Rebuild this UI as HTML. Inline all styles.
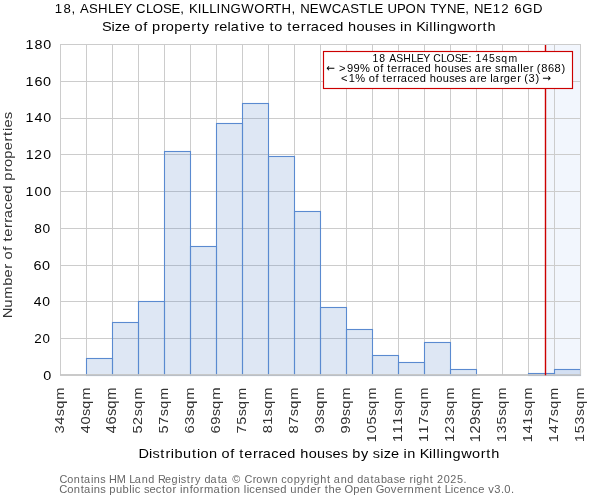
<!DOCTYPE html><html><head><meta charset="utf-8"><style>html,body{margin:0;padding:0;background:#fff;width:600px;height:500px;overflow:hidden}svg{display:block;will-change:transform}text{font-family:"Liberation Sans", sans-serif}</style></head><body>
<svg width="600" height="500" viewBox="0 0 600 500">
<rect x="0" y="0" width="600" height="500" fill="#fff"/>
<rect x="545.5" y="44.5" width="35.0" height="330.5" fill="#f2f6fd"/>
<path d="M86.5 44.5V375.0M112.5 44.5V375.0M138.5 44.5V375.0M164.5 44.5V375.0M190.5 44.5V375.0M216.5 44.5V375.0M242.5 44.5V375.0M268.5 44.5V375.0M294.5 44.5V375.0M320.5 44.5V375.0M346.5 44.5V375.0M372.5 44.5V375.0M398.5 44.5V375.0M424.5 44.5V375.0M450.5 44.5V375.0M476.5 44.5V375.0M502.5 44.5V375.0M528.5 44.5V375.0M554.5 44.5V375.0M60.5 338.5H580.5M60.5 301.5H580.5M60.5 265.5H580.5M60.5 228.5H580.5M60.5 191.5H580.5M60.5 154.5H580.5M60.5 118.5H580.5M60.5 81.5H580.5M60.5 44.5H580.5" stroke="#cccccc" stroke-width="1" fill="none"/>
<rect x="86.5" y="358.5" width="26" height="17.0" fill="#5a87c8" fill-opacity="0.2" stroke="#5a8ad0" stroke-width="1.1"/>
<rect x="112.5" y="322.5" width="26" height="53.0" fill="#5a87c8" fill-opacity="0.2" stroke="#5a8ad0" stroke-width="1.1"/>
<rect x="138.5" y="301.5" width="26" height="74.0" fill="#5a87c8" fill-opacity="0.2" stroke="#5a8ad0" stroke-width="1.1"/>
<rect x="164.5" y="151.5" width="26" height="224.0" fill="#5a87c8" fill-opacity="0.2" stroke="#5a8ad0" stroke-width="1.1"/>
<rect x="190.5" y="246.5" width="26" height="129.0" fill="#5a87c8" fill-opacity="0.2" stroke="#5a8ad0" stroke-width="1.1"/>
<rect x="216.5" y="123.5" width="26" height="252.0" fill="#5a87c8" fill-opacity="0.2" stroke="#5a8ad0" stroke-width="1.1"/>
<rect x="242.5" y="103.5" width="26" height="272.0" fill="#5a87c8" fill-opacity="0.2" stroke="#5a8ad0" stroke-width="1.1"/>
<rect x="268.5" y="156.5" width="26" height="219.0" fill="#5a87c8" fill-opacity="0.2" stroke="#5a8ad0" stroke-width="1.1"/>
<rect x="294.5" y="211.5" width="26" height="164.0" fill="#5a87c8" fill-opacity="0.2" stroke="#5a8ad0" stroke-width="1.1"/>
<rect x="320.5" y="307.5" width="26" height="68.0" fill="#5a87c8" fill-opacity="0.2" stroke="#5a8ad0" stroke-width="1.1"/>
<rect x="346.5" y="329.5" width="26" height="46.0" fill="#5a87c8" fill-opacity="0.2" stroke="#5a8ad0" stroke-width="1.1"/>
<rect x="372.5" y="355.5" width="26" height="20.0" fill="#5a87c8" fill-opacity="0.2" stroke="#5a8ad0" stroke-width="1.1"/>
<rect x="398.5" y="362.5" width="26" height="13.0" fill="#5a87c8" fill-opacity="0.2" stroke="#5a8ad0" stroke-width="1.1"/>
<rect x="424.5" y="342.5" width="26" height="33.0" fill="#5a87c8" fill-opacity="0.2" stroke="#5a8ad0" stroke-width="1.1"/>
<rect x="450.5" y="369.5" width="26" height="6.0" fill="#5a87c8" fill-opacity="0.2" stroke="#5a8ad0" stroke-width="1.1"/>
<rect x="528.5" y="373.5" width="26" height="2.0" fill="#5a87c8" fill-opacity="0.2" stroke="#5a8ad0" stroke-width="1.1"/>
<rect x="554.5" y="369.5" width="26" height="6.0" fill="#5a87c8" fill-opacity="0.2" stroke="#5a8ad0" stroke-width="1.1"/>
<path d="M60.5 44.5V375.0M580.5 44.5V375.0M60.0 44.5H581.0" stroke="#cccccc" stroke-width="1" fill="none"/>
<path d="M60.0 375.0H581.0" stroke="#c4c4c4" stroke-opacity="0.9" stroke-width="2" fill="none"/>
<line x1="545.5" y1="45" x2="545.5" y2="375.2" stroke="#cc0000" stroke-width="1.4"/>
<rect x="323.5" y="51.5" width="249" height="37" fill="#fff" stroke="#cc0000" stroke-width="1.15"/>
<path d="M326.73 68.53V68.07L328.73 66.07L329.34 66.68L328.15 67.87H334.37V68.73H328.15L329.34 69.92L328.73 70.53Z M550.57 77.97V78.43L548.57 80.43L547.96 79.82L549.15 78.63H542.93V77.77H549.15L547.96 76.58L548.57 75.97Z" fill="#000"/>
<text transform="translate(54.28,13.00) scale(0.9989,1)" x="0.53 9.15 17.28 21.40 25.85 34.80 43.69 53.90 60.83 69.22 77.75 81.87 91.78 98.56 108.93 117.35 126.20 130.32 134.92 143.56 147.75 155.25 162.52 166.59 176.46 187.23 200.28 210.85 219.14 227.57 237.57 241.69 246.21 255.83 264.93 277.68 287.41 296.36 305.04 313.55 320.49 329.19 333.60 343.18 351.57 362.26 372.08 376.42 384.26 393.03 402.66 411.51 415.63 420.15 429.77 439.00 447.44 455.59 460.46 468.47 479.28" y="0" font-size="13.2" fill="#000">18, ASHLEY CLOSE, KILLINGWORTH, NEWCASTLE UPON TYNE, NE12 6GD</text>
<text transform="translate(102.62,30.60) scale(1.1030,1)" x="-0.48 7.98 11.10 17.65 25.07 29.00 36.88 40.72 44.86 52.87 57.20 64.87 72.46 80.40 85.41 89.98 96.91 101.32 105.68 113.32 116.08 124.49 128.99 132.45 139.48 146.89 151.29 155.61 163.03 167.43 171.80 179.74 184.53 188.62 196.41 203.32 210.86 218.49 222.56 230.16 237.74 245.27 251.77 259.15 265.55 269.66 273.04 280.57 284.29 292.68 296.07 299.46 302.86 306.23 313.88 321.72 331.55 339.50 344.51 348.97" y="0" font-size="13.2" fill="#000">Size of property relative to terraced houses in Killingworth</text>
<text transform="translate(138.48,458.00) scale(1.0998,1)" x="-0.05 9.68 12.83 19.78 24.60 29.34 32.79 40.47 48.60 53.12 56.36 64.02 71.57 75.54 83.45 87.30 91.72 96.12 104.09 108.91 113.02 120.84 127.79 135.36 143.01 147.12 154.76 162.37 169.94 176.47 183.88 190.30 194.48 202.30 209.25 213.12 219.77 222.91 229.50 236.93 241.07 244.47 252.02 255.78 264.20 267.60 271.01 274.42 277.82 285.51 293.38 303.26 311.24 316.27 320.76" y="0" font-size="13.2" fill="#000">Distribution of terraced houses by size in Killingworth</text>
<text transform="translate(12.00,316.50) rotate(-90) translate(-1.32,0) scale(1.1230,1)" x="-0.30 9.07 16.94 28.46 35.92 43.74 48.20 52.01 59.78 63.58 67.87 72.13 79.96 84.67 88.66 96.32 103.11 110.52 118.08 122.08 129.98 134.21 141.75 149.21 157.04 161.97 166.40 169.57 176.82" y="0" font-size="13.2" fill="#333">Number of terraced properties</text>
<text transform="translate(59.82,483.00) scale(1.0447,1)" x="-0.33 7.15 13.41 19.95 23.18 29.77 32.60 38.73 43.88 47.05 54.56 63.24 66.51 71.79 78.42 84.69 90.84 93.89 100.70 106.88 113.26 115.87 121.51 125.46 129.42 135.00 138.39 144.32 151.16 154.39 160.74 165.08 173.94 176.79 184.62 188.15 194.44 202.60 208.66 211.86 217.51 223.81 230.18 236.27 240.11 242.87 249.29 255.85 259.29 262.26 268.90 275.17 281.32 284.71 290.65 297.48 300.71 307.39 313.20 319.62 324.97 330.93 334.63 338.47 341.23 347.65 354.20 357.65 360.98 367.48 373.72 380.19 386.45" y="0" font-size="10.4" fill="#666">Contains HM Land Registry data © Crown copyright and database right 2025.</text>
<text transform="translate(59.81,492.90) scale(1.0760,1)" x="-0.43 6.88 12.96 19.36 22.46 28.91 31.62 37.59 42.67 46.01 52.11 58.36 64.49 67.20 69.66 75.07 78.16 83.35 89.18 95.01 98.48 104.80 108.37 111.66 114.37 120.72 123.84 130.17 134.03 142.81 149.50 153.09 155.67 161.75 167.73 171.01 173.72 176.18 181.70 187.78 193.75 198.94 204.95 211.00 214.25 220.47 226.57 232.73 239.06 242.62 246.14 249.72 255.81 261.70 264.57 272.70 278.75 284.83 290.81 293.61 301.52 307.67 313.28 319.60 323.25 329.64 338.82 344.90 351.30 354.69 357.79 363.41 365.87 371.38 377.47 383.39 388.90 394.78 398.15 403.85 409.93 413.13 419.22" y="0" font-size="10.4" fill="#666">Contains public sector information licensed under the Open Government Licence v3.0.</text>
<text transform="translate(372.14,61.60) scale(1.0334,1)" x="0.39 6.97 13.06 16.45 23.27 30.05 37.84 43.13 49.54 56.05 59.18 66.75 71.93 79.84 86.27 93.24 96.37 100.03 106.60 113.10 119.43 124.94 131.89" y="0" font-size="10.1" fill="#000">18 ASHLEY CLOSE: 145sqm</text>
<text transform="translate(338.00,71.60) scale(1.1007,1)" x="1.01 8.14 14.19 20.08 29.11 32.22 38.34 41.30 44.75 48.18 54.35 58.15 61.35 67.41 72.80 78.67 84.56 87.78 93.70 99.61 105.47 110.54 116.28 121.23 123.98 130.52 133.88 139.61 142.65 148.02 156.59 162.88 165.52 168.09 174.27 177.73 180.67 184.67 190.72 196.77 203.04" y="0" font-size="10.1" fill="#000">&gt;99% of terraced houses are smaller (868)</text>
<text transform="translate(339.90,81.60) scale(1.0982,1)" x="1.02 8.13 14.05 23.09 26.21 32.33 35.30 38.76 42.19 48.37 52.17 55.38 61.45 66.84 72.72 78.62 81.85 87.78 93.69 99.56 104.64 110.39 115.34 118.10 124.65 128.02 133.75 136.97 139.16 145.71 149.21 155.24 161.42 164.89 167.83 171.85 178.12" y="0" font-size="10.1" fill="#000">&lt;1% of terraced houses are larger (3)</text>
<text transform="translate(42.80,379.80) scale(1.0935,1)" x="0.31" y="0" font-size="13.2" fill="#000">0</text>
<text transform="translate(33.96,343.04) scale(1.0111,1)" x="0.21 8.49" y="0" font-size="13.2" fill="#000">20</text>
<text transform="translate(33.55,306.28) scale(1.0559,1)" x="0.31 8.28" y="0" font-size="13.2" fill="#000">40</text>
<text transform="translate(33.26,269.53) scale(1.0938,1)" x="0.24 8.07" y="0" font-size="13.2" fill="#000">60</text>
<text transform="translate(33.87,232.77) scale(1.0405,1)" x="0.29 8.21" y="0" font-size="13.2" fill="#000">80</text>
<text transform="translate(25.29,196.01) scale(1.0818,1)" x="0.30 8.45 16.53" y="0" font-size="13.2" fill="#000">100</text>
<text transform="translate(25.29,159.25) scale(1.0683,1)" x="0.35 8.43 16.78" y="0" font-size="13.2" fill="#000">120</text>
<text transform="translate(25.29,122.49) scale(1.0821,1)" x="0.30 8.44 16.52" y="0" font-size="13.2" fill="#000">140</text>
<text transform="translate(25.29,85.74) scale(1.0945,1)" x="0.25 8.31 16.29" y="0" font-size="13.2" fill="#000">160</text>
<text transform="translate(25.29,48.98) scale(1.0857,1)" x="0.29 8.40 16.45" y="0" font-size="13.2" fill="#000">180</text>
<text transform="translate(63.70,432.75) rotate(-90) translate(-1.05,0) scale(1.0649,1)" x="0.32 8.53 16.50 23.42 32.04" y="0" font-size="13.7" fill="#333">34sqm</text>
<text transform="translate(89.70,432.75) rotate(-90) translate(-0.67,0) scale(1.0636,1)" x="0.27 8.44 16.35 23.22 31.77" y="0" font-size="13.7" fill="#333">40sqm</text>
<text transform="translate(115.70,432.75) rotate(-90) translate(-0.67,0) scale(1.0704,1)" x="0.25 8.37 16.23 23.05 31.53" y="0" font-size="13.7" fill="#333">46sqm</text>
<text transform="translate(141.70,432.75) rotate(-90) translate(-1.06,0) scale(1.0550,1)" x="0.29 8.48 16.69 23.68 32.41" y="0" font-size="13.7" fill="#333">52sqm</text>
<text transform="translate(167.70,432.75) rotate(-90) translate(-1.06,0) scale(1.0578,1)" x="0.28 8.59 16.64 23.61 32.31" y="0" font-size="13.7" fill="#333">57sqm</text>
<text transform="translate(193.70,432.75) rotate(-90) translate(-0.96,0) scale(1.0696,1)" x="0.28 8.47 16.37 23.24 31.80" y="0" font-size="13.7" fill="#333">63sqm</text>
<text transform="translate(219.70,432.75) rotate(-90) translate(-0.96,0) scale(1.0840,1)" x="0.22 8.25 16.11 22.89 31.30" y="0" font-size="13.7" fill="#333">69sqm</text>
<text transform="translate(245.70,432.75) rotate(-90) translate(-1.13,0) scale(1.0594,1)" x="0.31 8.57 16.64 23.61 32.31" y="0" font-size="13.7" fill="#333">75sqm</text>
<text transform="translate(271.70,432.75) rotate(-90) translate(-0.93,0) scale(1.0642,1)" x="0.29 8.44 16.46 23.37 31.97" y="0" font-size="13.7" fill="#333">81sqm</text>
<text transform="translate(297.70,432.75) rotate(-90) translate(-0.93,0) scale(1.0681,1)" x="0.28 8.44 16.39 23.27 31.83" y="0" font-size="13.7" fill="#333">87sqm</text>
<text transform="translate(323.70,432.75) rotate(-90) translate(-0.86,0) scale(1.0670,1)" x="0.24 8.48 16.38 23.25 31.82" y="0" font-size="13.7" fill="#333">93sqm</text>
<text transform="translate(349.70,432.75) rotate(-90) translate(-0.86,0) scale(1.0813,1)" x="0.18 8.26 16.12 22.90 31.32" y="0" font-size="13.7" fill="#333">99sqm</text>
<text transform="translate(375.70,440.90) rotate(-90) translate(-1.51,0) scale(1.0515,1)" x="0.27 8.66 16.92 25.01 32.00 40.73" y="0" font-size="13.7" fill="#333">105sqm</text>
<text transform="translate(401.70,440.90) rotate(-90) translate(-1.51,0) scale(1.0469,1)" x="0.29 8.64 16.99 25.13 32.15 40.93" y="0" font-size="13.7" fill="#333">111sqm</text>
<text transform="translate(427.70,440.90) rotate(-90) translate(-1.51,0) scale(1.0504,1)" x="0.28 8.60 16.96 25.03 32.03 40.77" y="0" font-size="13.7" fill="#333">117sqm</text>
<text transform="translate(453.70,440.90) rotate(-90) translate(-1.51,0) scale(1.0483,1)" x="0.29 8.52 17.05 25.09 32.10 40.86" y="0" font-size="13.7" fill="#333">123sqm</text>
<text transform="translate(479.70,440.90) rotate(-90) translate(-1.51,0) scale(1.0605,1)" x="0.24 8.38 16.75 24.76 31.69 40.33" y="0" font-size="13.7" fill="#333">129sqm</text>
<text transform="translate(505.70,440.90) rotate(-90) translate(-1.51,0) scale(1.0448,1)" x="0.30 8.75 17.05 25.19 32.23 41.02" y="0" font-size="13.7" fill="#333">135sqm</text>
<text transform="translate(531.70,440.90) rotate(-90) translate(-1.51,0) scale(1.0541,1)" x="0.26 8.62 16.85 24.94 31.91 40.61" y="0" font-size="13.7" fill="#333">141sqm</text>
<text transform="translate(557.70,440.90) rotate(-90) translate(-1.51,0) scale(1.0574,1)" x="0.25 8.58 16.82 24.85 31.79 40.46" y="0" font-size="13.7" fill="#333">147sqm</text>
<text transform="translate(583.70,440.90) rotate(-90) translate(-1.51,0) scale(1.0448,1)" x="0.30 8.68 17.12 25.19 32.23 41.02" y="0" font-size="13.7" fill="#333">153sqm</text>
</svg></body></html>
